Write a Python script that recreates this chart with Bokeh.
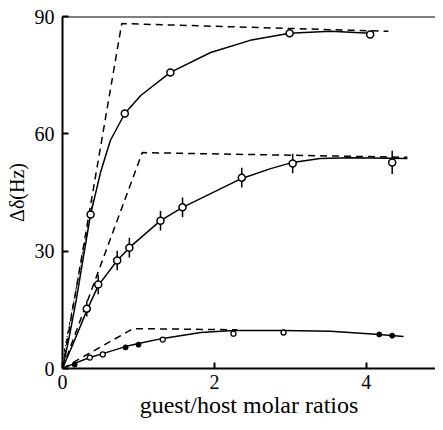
from bokeh.plotting import figure
from bokeh.models import FixedTicker, Span, Range1d
from bokeh.embed import file_html
from bokeh.resources import INLINE

# ---- data ----
# upper series (open circles)
top_x = [0.37, 0.82, 1.42, 2.99, 4.05]
top_y = [39.4, 65.2, 75.7, 85.7, 85.4]
top_fit_x = [0, 0.08, 0.18, 0.29, 0.37, 0.50, 0.63, 0.82, 1.03, 1.42, 1.95, 2.47, 2.99, 3.53, 4.05]
top_fit_y = [0, 7.2, 17.4, 30.2, 39.4, 50.1, 58.3, 65.2, 69.8, 75.7, 80.8, 83.9, 85.7, 86.2, 85.7]
top_lim_x = [0, 0.78, 4.29]
top_lim_y = [0, 88.2, 86.2]
top_init_x = [0, 0.40]
top_init_y = [2, 43]

# middle series (circles with error bars)
mid_x = [0.32, 0.47, 0.72, 0.88, 1.29, 1.58, 2.36, 3.03, 4.34]
mid_y = [15.3, 21.5, 27.6, 30.9, 37.8, 41.2, 48.8, 52.4, 52.7]
mid_err = [2.0, 2.5, 2.5, 2.5, 2.5, 2.5, 2.5, 2.5, 3.0]
mid_fit_x = [0, 0.13, 0.32, 0.47, 0.72, 0.88, 1.29, 1.58, 1.95, 2.36, 2.74, 3.03, 3.39, 3.79, 4.54]
mid_fit_y = [0, 5.9, 14.8, 21.2, 27.6, 30.9, 37.8, 41.2, 44.7, 48.6, 51.1, 52.7, 53.7, 53.9, 53.7]
mid_lim_x = [0, 1.05, 4.54]
mid_lim_y = [0, 55.2, 54.0]

# lower series
low_open_x = [0.36, 0.53, 1.32, 2.25, 2.91]
low_open_y = [2.8, 3.6, 7.4, 8.9, 9.2]
low_fill_x = [0.16, 0.83, 1.00, 4.17, 4.34]
low_fill_y = [1.0, 5.4, 6.1, 8.7, 8.4]
low_fit_x = [0, 0.16, 0.36, 0.53, 0.83, 1.00, 1.32, 1.82, 2.25, 2.91, 3.53, 4.17, 4.49]
low_fit_y = [0, 1.3, 2.8, 3.8, 5.6, 6.4, 7.7, 9.2, 9.7, 9.7, 9.5, 8.7, 8.2]
low_lim_x = [0, 0.93, 2.3]
low_lim_y = [0, 10.2, 9.9]

x_ticks = [0, 2, 4]
y_ticks = [0, 30, 60, 90]
x_title = "guest/host molar ratios"
y_title = "Δδ(Hz)"

FONT = "Liberation Serif"

p = figure(width=435, height=422, output_backend="svg", toolbar_location=None,
           x_range=Range1d(0, 4.91), y_range=Range1d(0, 90),
           min_border_left=62, min_border_right=0, min_border_top=16, min_border_bottom=54)
p.outline_line_color = None
p.grid.grid_line_color = None
p.background_fill_color = "white"

for ax in (p.xaxis[0], p.yaxis[0]):
    ax.axis_line_width = 2
    ax.axis_line_color = "black"
    ax.major_tick_in = 6
    ax.major_tick_out = 0
    ax.major_tick_line_width = 2
    ax.minor_tick_line_color = None
    ax.major_label_text_font = FONT
    ax.major_label_text_font_size = "20px"
    ax.major_label_text_color = "black"
    ax.axis_label_text_font = FONT
    ax.axis_label_text_font_style = "normal"
    ax.axis_label_text_color = "black"
p.xaxis[0].ticker = FixedTicker(ticks=x_ticks)
p.yaxis[0].ticker = FixedTicker(ticks=y_ticks)
p.xaxis[0].major_label_standoff = 6
p.yaxis[0].major_label_standoff = 8
p.xaxis[0].axis_label = x_title
p.xaxis[0].axis_label_text_font_size = "24px"
p.xaxis[0].axis_label_standoff = 0
p.yaxis[0].axis_label = y_title
p.yaxis[0].axis_label_text_font_size = "20px"
p.yaxis[0].axis_label_standoff = 4

p.add_layout(Span(location=90, dimension="width", line_color="black", line_width=2))

dash = "7 5"
# dashed limiting lines
p.line(top_lim_x, top_lim_y, line_color="black", line_width=1.5, line_dash=dash)
p.line(mid_lim_x, mid_lim_y, line_color="black", line_width=1.5, line_dash=dash)
p.line(low_lim_x, low_lim_y, line_color="black", line_width=1.5, line_dash=dash)
p.line(top_init_x, top_init_y, line_color="black", line_width=1, line_dash="4 2 1 2")

# fitted curves
p.line(top_fit_x, top_fit_y, line_color="black", line_width=1.5)
p.line(mid_fit_x, mid_fit_y, line_color="black", line_width=1.5)
p.line(low_fit_x, low_fit_y, line_color="black", line_width=1.5)

# error bars
p.segment(x0=mid_x, y0=[y - e for y, e in zip(mid_y, mid_err)],
          x1=mid_x, y1=[y + e for y, e in zip(mid_y, mid_err)],
          line_color="black", line_width=1.5)

# points
p.scatter(top_x, top_y, size=7, marker="circle", fill_color="white", line_color="black", line_width=1.5)
p.scatter(mid_x, mid_y, size=7, marker="circle", fill_color="white", line_color="black", line_width=1.5)
p.scatter(low_open_x, low_open_y, size=5, marker="circle", fill_color="white", line_color="black", line_width=1.3)
p.scatter(low_fill_x, low_fill_y, size=5, marker="circle", fill_color="black", line_color="black", line_width=1)

open("out.html", "w").write(file_html(p, INLINE))
